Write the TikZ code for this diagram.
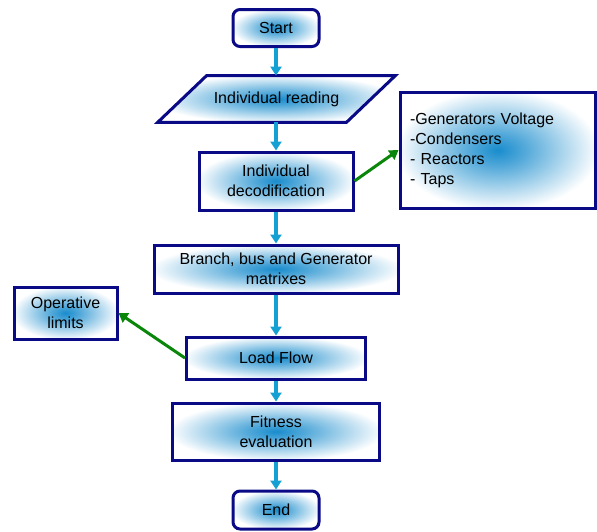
\documentclass[tikz,border=0pt]{standalone}
\usepackage{fontspec}
\setmainfont{Liberation Sans}
\usetikzlibrary{arrows.meta}
\definecolor{boxnavy}{RGB}{10,10,135}
\definecolor{glowblue}{RGB}{25,140,205}
\definecolor{flowblue}{RGB}{20,160,210}
\definecolor{sidegreen}{RGB}{10,135,10}
\pgfdeclareradialshading{glow}{\pgfpoint{0bp}{0bp}}{color(0bp)=(glowblue); color(7bp)=(glowblue!75!white); color(26bp)=(white); color(50bp)=(white)}
\tikzset{
  box/.style={draw=boxnavy, line width=1.5pt, shading=glow, font=\fontsize{8}{10}\selectfont, align=center, inner sep=0pt},
  terminal/.style={box, rounded corners=3.5pt},
  inout/.style={draw=boxnavy, line width=1.5pt, shading=glow, line join=miter},
  flow/.style={draw=flowblue, line width=1.6pt, -{Triangle[width=5.5pt,length=4.5pt]}},
  side/.style={draw=sidegreen, line width=1.5pt, -{Triangle[width=5.5pt,length=4.5pt]}}
}
\begin{document}
\begin{tikzpicture}[x=0.5pt,y=-0.5pt]
				\useasboundingbox (0,0) rectangle (597,531);
				% Main column
				\node[terminal, minimum width=43pt, minimum height=18.5pt] (start) at (276,28) {Start};
				\node[inner sep=0pt, minimum width=94pt, minimum height=23pt] (read) at (276.5,99) {};
				\path[inout] ([xshift=-12.25pt]read.south west) -- ([xshift=12.25pt]read.north west)
				  -- ([xshift=12.25pt]read.north east) -- ([xshift=-12.25pt]read.south east) -- cycle;
				\node[font=\fontsize{8}{10}\selectfont] (readlabel) at (read.center) {Individual reading};
				\node[box, minimum width=77pt, minimum height=29pt] (decod) at (276,181) {Individual\\decodification};
				\node[box, minimum width=122pt, minimum height=24pt] (matrix) at (276,269) {Branch, bus and Generator\\matrixes};
				\node[box, minimum width=89.5pt, minimum height=21pt] (load) at (276,358) {Load Flow};
				\node[box, minimum width=103.5pt, minimum height=28.5pt] (fitness) at (276,431.5) {Fitness\\evaluation};
				\node[terminal, minimum width=43pt, minimum height=19pt] (end) at (276,510) {End};
				% Side boxes
				\node[box, align=left, text width=87.5pt, inner xsep=5pt, minimum height=58pt] (list) at (497.5,150) {-Generators Voltage\\-Condensers\\- Reactors\\- Taps};
				\node[box, minimum width=51.5pt, minimum height=26pt] (limits) at (65.5,313) {Operative\\limits};
				% Flow arrows
				\draw[flow] (start) -- (start |- read.north);
				\draw[flow] (start |- read.south) -- (decod);
				\draw[flow] (decod) -- (matrix);
				\draw[flow] (matrix) -- (load);
				\draw[flow] (load) -- (fitness);
				\draw[flow] (fitness) -- (end);
				% Side arrows
				\draw[side] (decod.east) -- (list.west);
				\draw[side] (load.west) -- (limits.east);
			\end{tikzpicture}
\end{document}
